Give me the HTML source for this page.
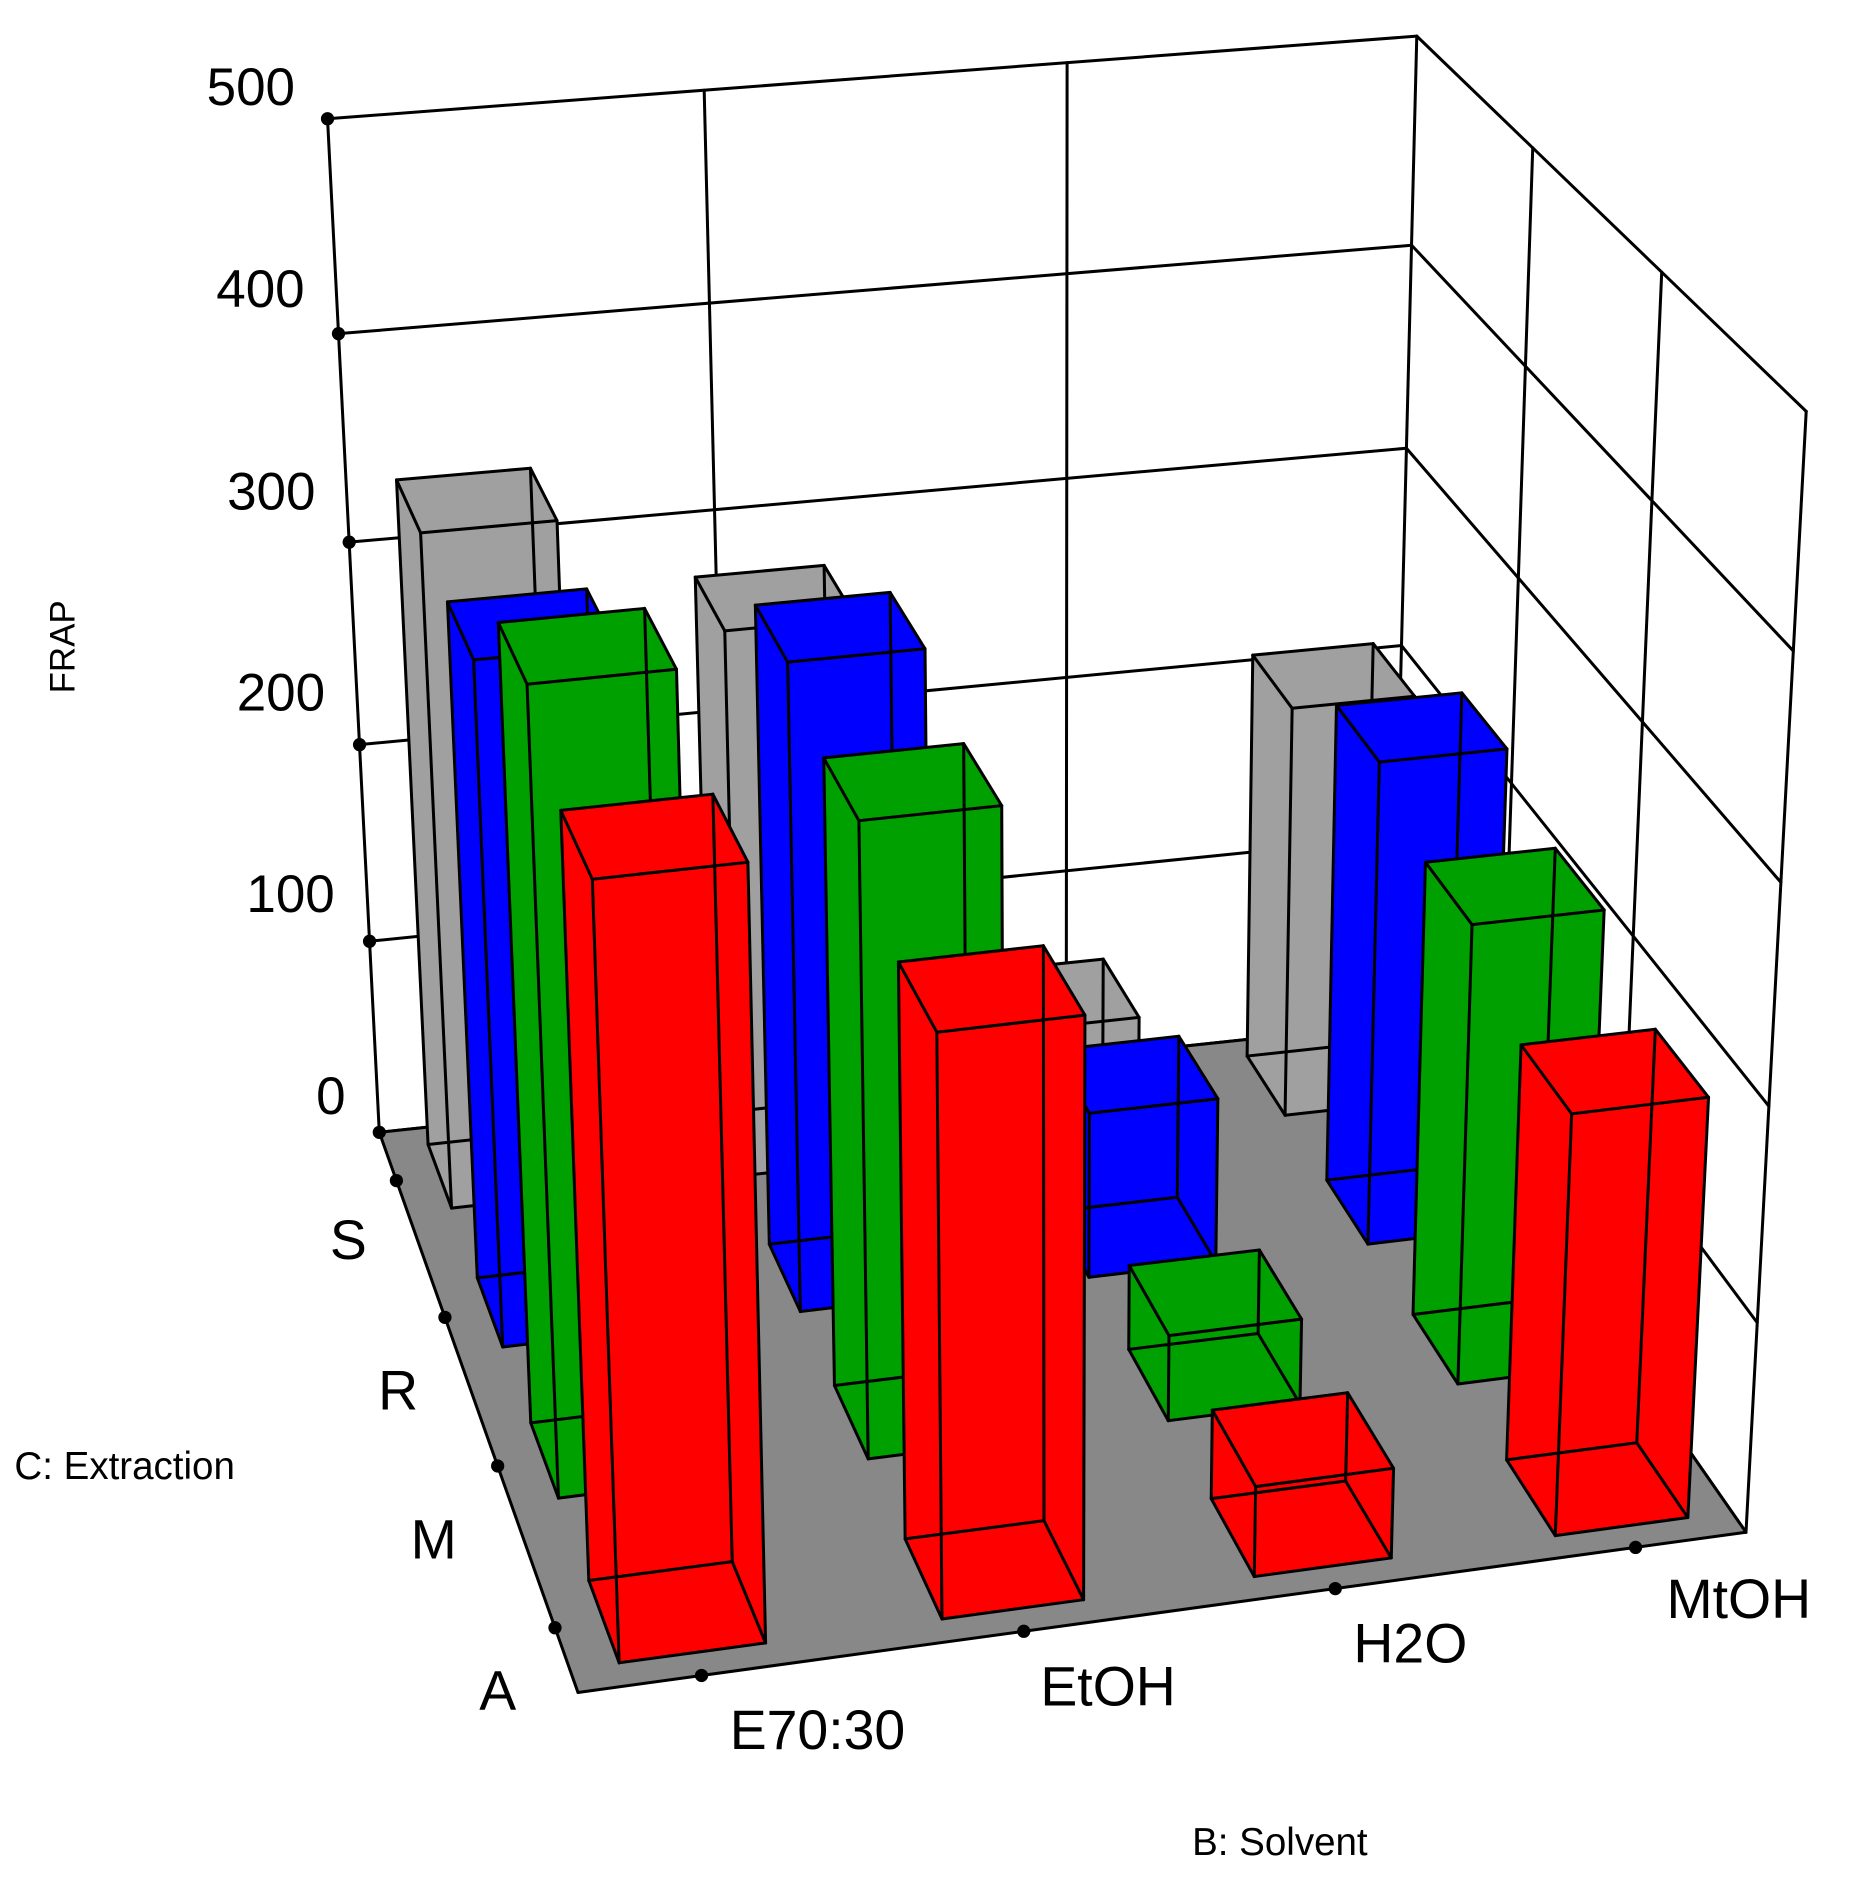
<!DOCTYPE html>
<html><head><meta charset="utf-8">
<style>html,body{margin:0;padding:0;background:#fff;}svg{display:block;}
text{font-family:"Liberation Sans",sans-serif;fill:#000;}</style></head>
<body>
<svg id="s" xmlns="http://www.w3.org/2000/svg" width="1864" height="1890" viewBox="0 0 1548 1569" preserveAspectRatio="none">
<g id="g"></g>
<g font-size="44">
<text x="245" y="87" text-anchor="end">500</text>
<text x="253" y="255" text-anchor="end">400</text>
<text x="262" y="423" text-anchor="end">300</text>
<text x="270" y="590" text-anchor="end">200</text>
<text x="278" y="757" text-anchor="end">100</text>
<text x="287" y="925" text-anchor="end">0</text>
</g>
<g font-size="46">
<text x="274" y="1045">S</text>
<text x="314" y="1170">R</text>
<text x="341" y="1294">M</text>
<text x="398" y="1419">A</text>
<text x="606" y="1452">E70:30</text>
<text x="864" y="1416">EtOH</text>
<text x="1124" y="1380">H2O</text>
<text x="1384" y="1343">MtOH</text>
</g>
<text font-size="29" transform="translate(62,537) rotate(-90)" text-anchor="middle">FRAP</text>
<text font-size="32" x="12" y="1228">C: Extraction</text>
<text font-size="32" x="990" y="1540">B: Solvent</text>
</svg>
<script>
(function(){
var src=[[0,0],[1,0],[1,1],[0,1]], dst=[[315,940],[1156,850],[1450,1272],[480,1405]];
var A=[],b=[];
for(var i=0;i<4;i++){var x=src[i][0],y=src[i][1],u=dst[i][0],v=dst[i][1];
A.push([x,y,1,0,0,0,-u*x,-u*y]);b.push(u);
A.push([0,0,0,x,y,1,-v*x,-v*y]);b.push(v);}
var n=8;for(var c=0;c<n;c++){var p=c;for(var r=c+1;r<n;r++)if(Math.abs(A[r][c])>Math.abs(A[p][c]))p=r;
var t=A[c];A[c]=A[p];A[p]=t;t=b[c];b[c]=b[p];b[p]=t;
for(var r=0;r<n;r++){if(r==c)continue;var f=A[r][c]/A[c][c];for(var k=c;k<n;k++)A[r][k]-=f*A[c][k];b[r]-=f*b[c];}}
var h=[];for(var i=0;i<n;i++)h.push(b[i]/A[i][i]);h.push(1);
var w0=1, lam=w0*(272-315)/(877-272);
var VX=877,VY=11937;
function P(X,Y,Z){Z=Z*(1+0.022*X);var hx=h[0]*X+h[1]*Y+h[2],hy=h[3]*X+h[4]*Y+h[5],hw=h[6]*X+h[7]*Y+h[8];
hx+=Z*lam*VX;hy+=Z*lam*VY;hw+=Z*lam;return [hx/hw,hy/hw];}
var out=[];
function pt(p){return p[0].toFixed(1)+","+p[1].toFixed(1);}
function line(a,b,w){out.push('<line x1="'+a[0].toFixed(1)+'" y1="'+a[1].toFixed(1)+'" x2="'+b[0].toFixed(1)+'" y2="'+b[1].toFixed(1)+'" stroke="#000" stroke-width="'+(w||2.5)+'" stroke-linecap="round"/>');}
function poly(ps,fill){out.push('<polygon points="'+ps.map(pt).join(" ")+'" fill="'+fill+'" stroke="none"/>');}
function dot(p){out.push('<circle cx="'+p[0].toFixed(1)+'" cy="'+p[1].toFixed(1)+'" r="5.5" fill="#000"/>');}
for(var k=0;k<=5;k++){var z=k/5;line(P(0,0,z),P(1,0,z));line(P(1,0,z),P(1,1,z));}
[1/3,2/3].forEach(function(x){line(P(x,0,0),P(x,0,1));line(P(1,x,0),P(1,x,1));});
line(P(0,0,0),P(0,0,1));line(P(1,0,0),P(1,0,1));line(P(1,1,0),P(1,1,1));
poly([P(0,0,0),P(1,0,0),P(1,1,0),P(0,1,0)],"#888888");
line(P(0,0,0),P(0,1,0));line(P(0,1,0),P(1,1,0));line(P(1,0,0),P(1,1,0));line(P(0,0,0),P(1,0,0));
var C=[0.1,0.367,0.634,0.9];
for(var k=0;k<=5;k++)dot(P(0,0,k/5));
C.forEach(function(c){dot(P(0,c,0));dot(P(c,1,0));});
var vals=[[335,275,60,210],[330,315,83,240],[375,300,42,222],[350,268,43,198]];
var cols=["#a0a0a0","#0000ff","#00a000","#ff0000"];
var hw=0.06,hd=0.065;
for(var j=0;j<4;j++){
 var order=[0,1,2,3].sort(function(a,b){return Math.abs(C[b]-0.67)-Math.abs(C[a]-0.67);});
 order.forEach(function(i){
  var z=vals[j][i]/500,x0=C[i]-hw,x1=C[i]+hw,y0=C[j]-hd,y1=C[j]+hd;
  var c=[P(x0,y0,0),P(x1,y0,0),P(x1,y1,0),P(x0,y1,0),P(x0,y0,z),P(x1,y0,z),P(x1,y1,z),P(x0,y1,z)];
  var f=cols[j];
  var faces=[[0,1,2,3],[4,5,6,7],[0,1,5,4],[1,2,6,5],[2,3,7,6],[3,0,4,7]];
  faces.forEach(function(F){poly(F.map(function(q){return c[q];}),f);});
  var E=[[0,1],[1,2],[2,3],[3,0],[4,5],[5,6],[6,7],[7,4],[0,4],[1,5],[2,6],[3,7]];
  E.forEach(function(e){line(c[e[0]],c[e[1]]);});
 });
}
document.getElementById("g").innerHTML=out.join("");
})();
</script>
</body></html>
